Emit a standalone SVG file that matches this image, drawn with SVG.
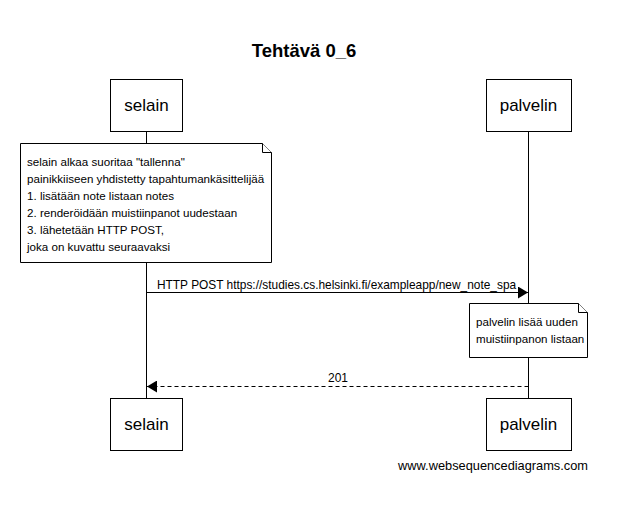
<svg xmlns="http://www.w3.org/2000/svg" width="620" height="505" viewBox="0 0 620 505">
<style>
.t{font-family:"Liberation Sans",Arial,sans-serif;fill:#000}
.n{font-size:11.6px}
.box{fill:#fff;stroke:#000;stroke-width:1}
.life{stroke:#000;stroke-width:1}
.msg{stroke:#000;stroke-width:1;fill:none}
.note{fill:#fff;stroke:#000;stroke-width:1}
</style>
<defs>
<marker id="ah" markerWidth="10" markerHeight="12" refX="10" refY="6" orient="auto" markerUnits="userSpaceOnUse">
<path d="M0,0 L10,6 L0,12 Z" fill="#000"/>
</marker>
</defs>
<rect width="620" height="505" fill="#fff"/>
<text class="t" x="304" y="57" font-size="18.5" font-weight="bold" text-anchor="middle">Tehtävä 0_6</text>
<g id="lifelines">
<line class="life" x1="146.5" y1="131" x2="146.5" y2="398"/>
<line class="life" x1="528.5" y1="131" x2="528.5" y2="398"/>
</g>
<g id="selain-top">
<rect class="box" x="110.5" y="79.5" width="72" height="52"/>
<text class="t" x="146.5" y="111" font-size="17" text-anchor="middle">selain</text>
</g>
<g id="palvelin-top">
<rect class="box" x="486.5" y="79.5" width="85" height="52"/>
<text class="t" x="528.5" y="111" font-size="17" text-anchor="middle">palvelin</text>
</g>
<g id="note1">
<path class="note" d="M20.5,143.5 H262.5 L271.5,152.5 V262.5 H20.5 Z"/>
<path class="note" d="M262.5,143.5 V152.5 H271.5"/>
<text class="t n">
<tspan x="27" y="166">selain alkaa suoritaa "tallenna"</tspan>
<tspan x="27" y="183">painikkiiseen yhdistetty tapahtumankäsittelijää</tspan>
<tspan x="27" y="200">1. lisätään note listaan notes</tspan>
<tspan x="27" y="217">2. renderöidään muistiinpanot uudestaan</tspan>
<tspan x="27" y="234">3. lähetetään HTTP POST,</tspan>
<tspan x="27" y="251">joka on kuvattu seuraavaksi</tspan>
</text>
</g>
<g id="connectors">
<line class="msg" x1="146.5" y1="292.5" x2="528" y2="292.5" marker-end="url(#ah)"/>
<text class="t" x="157" y="289" font-size="11.9">HTTP POST https://studies.cs.helsinki.fi/exampleapp/new_note_spa</text>
<line class="msg" x1="528.5" y1="386.5" x2="147" y2="386.5" stroke-dasharray="4,3" marker-end="url(#ah)"/>
<text class="t" x="338" y="382" font-size="12" text-anchor="middle">201</text>
</g>
<g id="note2">
<path class="note" d="M469.5,303.5 H578.5 L587.5,312.5 V357.5 H469.5 Z"/>
<path class="note" d="M578.5,303.5 V312.5 H587.5"/>
<text class="t n">
<tspan x="476" y="326">palvelin lisää uuden</tspan>
<tspan x="476" y="343">muistiinpanon listaan</tspan>
</text>
</g>
<g id="selain-bottom">
<rect class="box" x="110.5" y="398.5" width="72" height="52"/>
<text class="t" x="146.5" y="430" font-size="17" text-anchor="middle">selain</text>
</g>
<g id="palvelin-bottom">
<rect class="box" x="486.5" y="398.5" width="85" height="52"/>
<text class="t" x="528.5" y="430" font-size="17" text-anchor="middle">palvelin</text>
</g>
<text class="t" x="588" y="470" font-size="12.8" text-anchor="end">www.websequencediagrams.com</text>
</svg>
